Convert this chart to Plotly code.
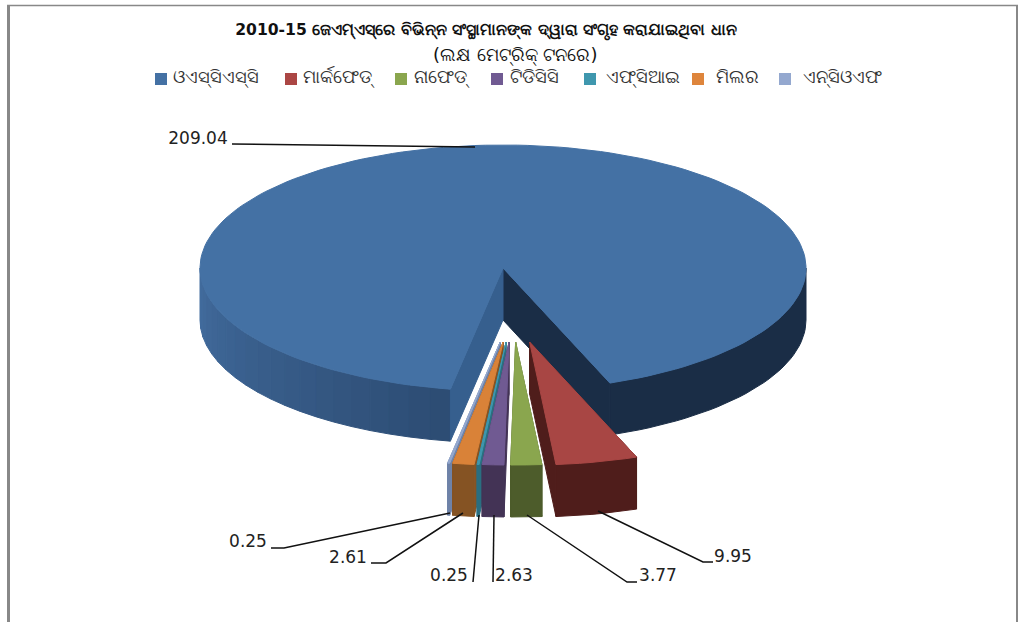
import math
import plotly.graph_objects as go

# ---- data ----
categories = ["ଓଏସ୍‌ସିଏସ୍‌ସି", "ମାର୍କଫେଡ୍", "ନାଫେଡ୍", "ଟିଡିସିସି", "ଏଫ୍‌ସିଆଇ", "ମିଲର", "ଏନ୍‌ସିଓଏଫ"]
values = [209.04, 9.95, 3.77, 2.63, 0.25, 2.61, 0.25]
title_lines = ["2010-15 ଜେଏମ୍‌ଏସ୍‌ରେ ବିଭିନ୍ନ ସଂସ୍ଥାମାନଙ୍କ ଦ୍ୱାରା ସଂଗୃହ କରାଯାଇଥିବା ଧାନ", "(ଲକ୍ଷ ମେଟ୍ରିକ୍ ଟନରେ)"]

# ---- styles ----
top_colors = ["#4471A4", "#A84644", "#8AA64E", "#705A92", "#3F97AE", "#D98238", "#94A8CF"]
wall_colors = ["#1A2D46", "#4F1D1B", "#4D5C2B", "#433355", "#2A6F80", "#855323", "#6F83A8"]
legend_marker_x = [161, 291, 401, 497, 590, 698, 785]
legend_text_x = [173, 303, 414, 510, 606, 716, 803]
legend_y = 79
FONT = "DejaVu Sans"
CX, CY, RX, RY, DEPTH = 503, 268, 303, 123, 52
START = 190.0
EXP_CX, EXP_CY, EXP_X = 513, 342, 75

fig = go.Figure()


def pt(a, ax, ay, dz=0):
    r = math.radians(a)
    return ax + RX * math.sin(r), ay - RY * math.cos(r) + dz


def poly(points, color):
    fig.add_trace(go.Scatter(
        x=[p[0] for p in points] + [points[0][0]],
        y=[p[1] for p in points] + [points[0][1]],
        mode="lines", fill="toself", fillcolor=color,
        line=dict(color=color, width=1), hoverinfo="skip", showlegend=False))


def arc(a0, a1, ax, ay, dz=0, step=2.0):
    n = max(2, int(abs(a1 - a0) / step) + 1)
    return [pt(a0 + (a1 - a0) * i / (n - 1), ax, ay, dz) for i in range(n)]


def wall_band(a0, a1, ax, ay, color):
    poly(arc(a0, a1, ax, ay) + arc(a1, a0, ax, ay, DEPTH), color)


def mix(c1, c2, f):
    a = [int(c1[i:i + 2], 16) for i in (1, 3, 5)]
    b = [int(c2[i:i + 2], 16) for i in (1, 3, 5)]
    return "#%02x%02x%02x" % tuple(round(x + (y - x) * f) for x, y in zip(a, b))


total = sum(values)
sweeps = [v / total * 360 for v in values]
main_end = START + sweeps[0]

# main slice: walls first, then cut faces, then the top
for a in range(270, 190, -4):
    f = (270 - a) / 80
    wall_band(a, max(a - 4, START), CX, CY, mix("#426C9E", "#2C4B72", f))
wall_band(450, main_end, CX, CY, wall_colors[0])
for a_edge, col in ((main_end, wall_colors[0]), (START, "#365F8E")):
    e = pt(a_edge, CX, CY)
    poly([(CX, CY), e, (e[0], e[1] + DEPTH), (CX, CY + DEPTH)], col)
poly([(CX, CY)] + arc(START, main_end, CX, CY), top_colors[0])

# exploded slices: angles in value order, drawn from the left-most to the right-most
angles = []
a = main_end
for i in range(1, len(values)):
    angles.append((i, a, a + sweeps[i]))
    a += sweeps[i]
for i, a0, a1 in reversed(angles):
    mid = math.radians((a0 + a1) / 2)
    ax, ay = EXP_CX + EXP_X * math.sin(mid), EXP_CY
    for ae in (a0, a1):
        e = pt(ae, ax, ay)
        poly([(ax, ay), e, (e[0], e[1] + DEPTH), (ax, ay + DEPTH)], wall_colors[i])
    wall_band(a0, a1, ax, ay, wall_colors[i])
    poly([(ax, ay)] + arc(a0, a1, ax, ay), top_colors[i])

# leader lines, in the order of the values
leaders = [
    [(475, 147), (243, 144), (232, 144)],
    [(598, 511), (703, 562), (713, 562)],
    [(527, 515), (627, 582), (637, 582)],
    [(494, 515), (493, 582)],
    [(479, 515), (473, 582)],
    [(463, 513), (386, 563), (371, 563)],
    [(450, 513), (284, 548), (271, 548)],
]
label_pos = [(198, 140), (733, 558), (658, 577), (514, 577), (449, 577), (348, 559), (248, 543)]
for pts in leaders:
    fig.add_trace(go.Scatter(x=[p[0] for p in pts], y=[p[1] for p in pts], mode="lines",
                             line=dict(color="#111111", width=1.5), hoverinfo="skip", showlegend=False))
fig.add_trace(go.Scatter(
    x=[p[0] for p in label_pos], y=[p[1] for p in label_pos], mode="text",
    text=[f"{v:.2f}" for v in values], textposition="middle center",
    textfont=dict(family=FONT, size=17, color="#222222"), hoverinfo="skip", showlegend=False))

# legend
fig.add_trace(go.Scatter(
    x=legend_marker_x, y=[legend_y] * len(legend_marker_x), mode="markers",
    marker=dict(symbol="square", size=12, color=["#4471A4", "#AB4644", "#8AA64E", "#705A92", "#3F97AE", "#DE853C", "#94A8CF"]),
    hoverinfo="skip", showlegend=False))
fig.add_trace(go.Scatter(
    x=legend_text_x, y=[legend_y - 1] * len(legend_text_x), mode="text",
    text=categories, textposition="middle right",
    textfont=dict(family=FONT, size=18, color="#333333"), hoverinfo="skip", showlegend=False))

fig.update_layout(
    width=1020, height=622, margin=dict(l=0, r=0, t=0, b=0),
    paper_bgcolor="white", plot_bgcolor="white", showlegend=False,
    xaxis=dict(range=[0, 1020], visible=False, fixedrange=True),
    yaxis=dict(range=[622, 0], visible=False, fixedrange=True),
    title=dict(text="<b>" + title_lines[0] + "</b>",
               x=486 / 1020, xanchor="center", y=1 - 30 / 622, yanchor="middle",
               font=dict(family=FONT, size=15.6, color="#111111")),
    annotations=[dict(text=title_lines[1], x=515, y=55, xref="x", yref="y", showarrow=False,
                      font=dict(family=FONT, size=18, color="#111111"))],
    shapes=[
        dict(type="line", x0=7, x1=1018, y0=5.5, y1=5.5, line=dict(color="#888888", width=1.5)),
        dict(type="line", x0=8.5, x1=8.5, y0=5, y1=622, line=dict(color="#888888", width=3)),
        dict(type="line", x0=1017, x1=1017, y0=5, y1=622, line=dict(color="#888888", width=2)),
    ],
)
fig.write_html("out.html", config={"displayModeBar": False}, post_script="document.body.style.margin='0';")
